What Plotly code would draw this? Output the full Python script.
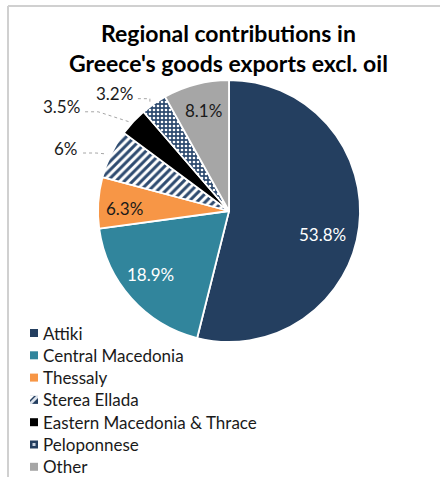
import math
import plotly.graph_objects as go

# Regional shares of Greece's goods exports (excluding oil), %
regions = ["Attiki", "Central Macedonia", "Thessaly", "Sterea Ellada",
           "Eastern Macedonia & Thrace", "Peloponnese", "Other"]
shares = [53.8, 18.9, 6.3, 6.0, 3.5, 3.2, 8.1]
share_labels = ["53.8%", "18.9%", "6.3%", "6%", "3.5%", "3.2%", "8.1%"]

W, H = 440, 477
NAVY = "#243F60"
STRIPE = "#2E4B70"
TEXT = "#1A1A1A"
colors = [NAVY, "#31859C", "#F79646", "#FFFFFF", "#000000", STRIPE, "#A6A6A6"]
pattern_shapes = ["", "", "", "/", "", ".", ""]
pattern_fg = [NAVY, "#31859C", "#F79646", STRIPE, "#000000", "#FFFFFF", "#A6A6A6"]
pattern_bg = [NAVY, "#31859C", "#F79646", "#FFFFFF", "#000000", STRIPE, "#A6A6A6"]

# value-label styling per slice
outside = [False, False, False, True, True, True, False]
label_colors = ["#FFFFFF", "#FFFFFF", TEXT, TEXT, TEXT, TEXT, TEXT]
# inside labels: radial fraction and pixel nudge; outside labels: nudge of the text's right edge
inside_radius = [0.7, 0.7, 0.8, 0, 0, 0, 0.8]
label_nudges = [(2, 12), (-10, 2), (0, 4), (-31, -6), (-51, -15), (-19, -10), (1, 1)]

# pie geometry in pixels
CX, CY, R = 229, 211, 131
FONT = "Lato"


def px(x):
    return x / W


def py(y):
    return 1 - y / H


fig = go.Figure()
fig.add_trace(go.Pie(
    labels=regions,
    values=shares,
    textinfo="none",
    sort=False,
    direction="clockwise",
    rotation=0,
    marker=dict(
        colors=colors,
        line=dict(color="#FFFFFF", width=1.8),
        pattern=dict(shape=pattern_shapes, fgcolor=pattern_fg, bgcolor=pattern_bg,
                     size=[8, 8, 8, 6, 8, 4, 8],
                     solidity=[0.3, 0.3, 0.3, 0.5, 0.3, 0.35, 0.3]),
    ),
    domain=dict(x=[px(CX - R), px(CX + R)], y=[py(CY + R), py(CY - R)]),
    hoverinfo="label+percent",
    showlegend=False,
))

total = sum(shares)
cum = 0.0
shapes = []
annotations = []
for i, v in enumerate(shares):
    mid = (cum + v / 2) / total * 2 * math.pi
    cum += v
    dx, dy = label_nudges[i]
    if not outside[i]:
        f = inside_radius[i]
        lx = CX + f * R * math.sin(mid) + dx
        ly = CY - f * R * math.cos(mid) + dy
        annotations.append(dict(
            x=px(lx), y=py(ly), xref="paper", yref="paper", text=share_labels[i],
            showarrow=False, xanchor="center", yanchor="middle",
            font=dict(family=FONT, size=17, color=label_colors[i])))
        continue
    ex = CX + R * math.sin(mid)
    ey = CY - R * math.cos(mid)
    lx, ly = ex + dx, ey + dy
    annotations.append(dict(
        x=px(lx), y=py(ly), xref="paper", yref="paper", text=share_labels[i],
        showarrow=False, xanchor="right", yanchor="middle",
        font=dict(family=FONT, size=17, color=label_colors[i])))
    # dotted leader: short horizontal run, then to the slice edge
    sx, sy = lx + 3, ly + 5
    elx = min(sx + 13, ex - 4)
    path = f"M{px(sx)},{py(sy)} L{px(elx)},{py(sy)} L{px(ex - 4)},{py(ey)}"
    shapes.append(dict(type="path", xref="paper", yref="paper", path=path,
                       line=dict(color="#A6A6A6", width=1, dash="dot")))

# legend: swatch + name per region
LEG_X, LEG_Y0, LEG_DY, SW = 30, 333, 22.3, 8
for i, name in enumerate(regions):
    yc = LEG_Y0 + i * LEG_DY
    x0, x1, y0, y1 = LEG_X, LEG_X + SW, yc - SW / 2, yc + SW / 2
    base = NAVY if i in (3, 5) else colors[i]
    shapes.append(dict(type="rect", xref="paper", yref="paper",
                       x0=px(x0), x1=px(x1), y0=py(y1), y1=py(y0),
                       fillcolor=base, line=dict(width=0)))
    if pattern_shapes[i] == "/":
        p = (f"M{px(x0)},{py(y1 - 2)} L{px(x0)},{py(y1)} L{px(x0 + 2)},{py(y1)} "
             f"L{px(x1)},{py(y0 + 2)} L{px(x1)},{py(y0)} L{px(x1 - 2)},{py(y0)} Z")
        shapes.append(dict(type="path", xref="paper", yref="paper", path=p,
                           fillcolor="#DCE3EC", line=dict(width=0)))
        shapes.append(dict(type="path", xref="paper", yref="paper",
                           path=f"M{px(x0)},{py(y0)} L{px(x0 + 4)},{py(y0)} L{px(x0)},{py(y0 + 4)} Z",
                           fillcolor="#FFFFFF", line=dict(width=0)))
    elif pattern_shapes[i] == ".":
        shapes.append(dict(type="rect", xref="paper", yref="paper",
                           x0=px(x0 + 2.5), x1=px(x1 - 2.5), y0=py(y1 - 2.5), y1=py(y0 + 2.5),
                           fillcolor="#C9D3E0", line=dict(width=0)))
    annotations.append(dict(
        x=px(41), y=py(yc), xref="paper", yref="paper", text=name,
        showarrow=False, xanchor="left", yanchor="middle",
        font=dict(family=FONT, size=17, color=TEXT)))

# chart frame (top and left edges)
shapes.append(dict(type="line", xref="paper", yref="paper",
                   x0=px(8), y0=py(6), x1=1.0, y1=py(6), line=dict(color="#D0D0D0", width=2)))
shapes.append(dict(type="line", xref="paper", yref="paper",
                   x0=px(8), y0=py(6), x1=px(8), y1=0, line=dict(color="#D0D0D0", width=2)))

annotations.append(dict(
    x=px(228), y=py(48), xref="paper", yref="paper",
    text="<b>Regional contributions in<br>Greece's goods exports excl. oil</b>",
    showarrow=False, xanchor="center", yanchor="middle",
    font=dict(family=FONT, size=23, color="#000000")))

fig.update_layout(
    width=W, height=H,
    margin=dict(l=0, r=0, t=0, b=0),
    paper_bgcolor="#FFFFFF",
    plot_bgcolor="#FFFFFF",
    shapes=shapes,
    annotations=annotations,
    showlegend=False,
)

fig.write_html("out.html")
